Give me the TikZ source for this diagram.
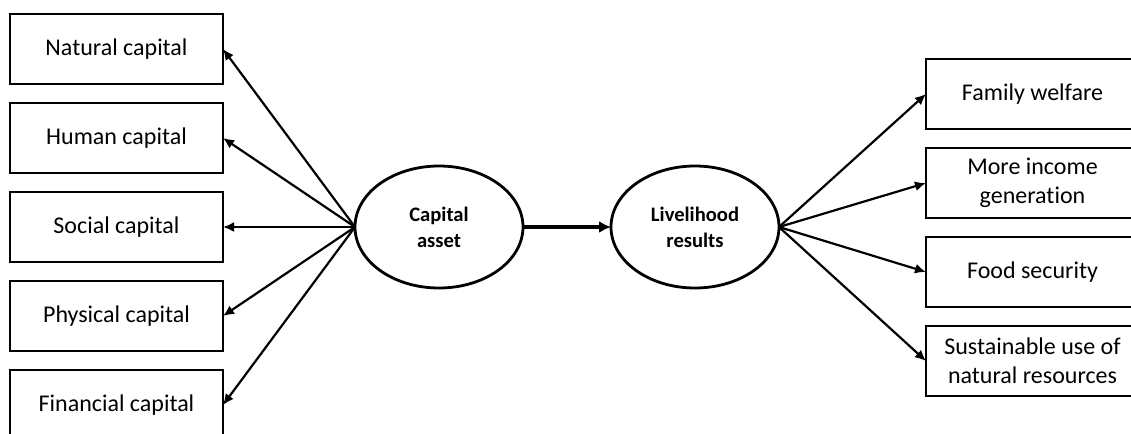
\documentclass[tikz,border=0pt]{standalone}
\usepackage{fontspec}
\setmainfont[Ligatures=NoCommon]{Carlito}
\usetikzlibrary{positioning, shapes.geometric, arrows.meta}
\tikzset{capbox/.style={draw, line width=1.4pt, outer sep=0pt, minimum width=106.5pt, minimum height=35pt, inner sep=2pt, align=center, font=\fontsize{12}{14.5}\selectfont}}
\tikzset{hub/.style={draw, ellipse, line width=1.4pt, outer sep=0pt, minimum width=84pt, minimum height=61pt, inner sep=0pt, align=center, font=\fontsize{10.3}{13}\selectfont\bfseries}}
\tikzset{arr/.style={draw, -{Latex[length=5.5pt, width=5pt]}, line width=1.1pt}}
\tikzset{arr3/.style={draw, -{Latex[length=6pt, width=6pt]}, line width=2.2pt}}

\begin{document}
\begin{tikzpicture}
				\useasboundingbox (0,0) rectangle (565.5pt,-217pt);
				% capitals
				\node[capbox] (nat) at (58.25pt,-24.5pt) {Natural capital};
				\node[capbox, below=9.5pt of nat] (hum) {Human capital};
				\node[capbox, below=9.5pt of hum] (soc) {Social capital};
				\node[capbox, below=9.5pt of soc] (phy) {Physical capital};
				\node[capbox, below=9.5pt of phy] (fin) {Financial capital};
				%
				\node[hub] (cap) at (219.5pt,-113.5pt) {Capital\\asset};
				\node[hub, right=44pt of cap] (live) {Livelihood\\results};
				% results
				\node[capbox] (fam) at (516.25pt,-47pt) {Family welfare};
				\node[capbox, below=9.5pt of fam] (inc) {More income\\generation};
				\node[capbox, below=9.5pt of inc] (food) {Food security};
				\node[capbox, below=9.5pt of food] (sus) {Sustainable use of\\natural resources};
				%
				\foreach \b in {nat, hum, soc, phy, fin}
					\draw[arr] (cap.west) -- (\b.east);
				\draw[arr3] (cap) -- (live);
				\foreach \b in {fam, inc, food, sus}
					\draw[arr] (live.east) -- (\b.west);
			\end{tikzpicture}
\end{document}
